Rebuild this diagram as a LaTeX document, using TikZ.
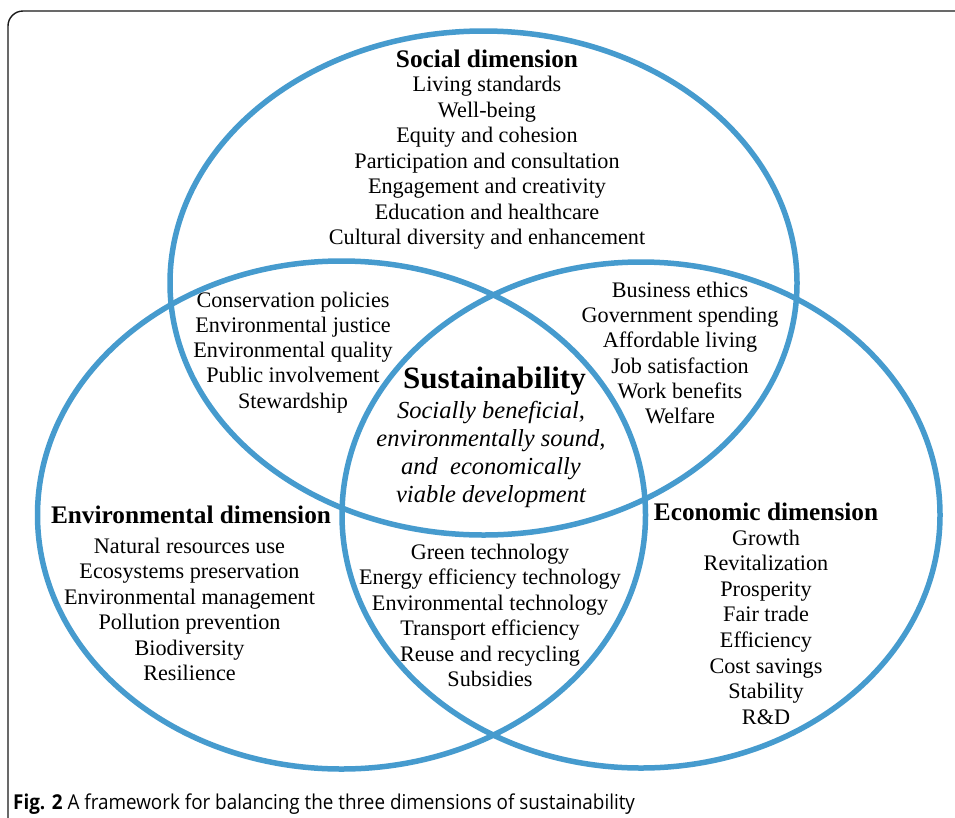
\documentclass[tikz,border=0pt]{standalone}
\usepackage{fontspec}
\setmainfont{Liberation Serif}
\newfontfamily\capfont{Open Sans}
\definecolor{vennblue}{RGB}{70,155,206}
\definecolor{framegray}{RGB}{25,25,25}
\begin{document}
\begin{tikzpicture}[x=1pt,y=-1pt,
  ring/.style={draw=vennblue,line width=5.5pt},
  item/.style={font=\fontsize{22.2}{25}\selectfont, anchor=base, inner sep=0pt},
  head/.style={font=\fontsize{25.3}{28}\selectfont\bfseries, anchor=base, inner sep=0pt},
  core/.style={font=\fontsize{31}{34}\selectfont\bfseries, anchor=base, inner sep=0pt},
  coreit/.style={font=\fontsize{24.5}{28}\selectfont\itshape, anchor=base, inner sep=0pt},
  frameline/.style={draw=framegray,line width=1.4pt}]
\useasboundingbox (0,0) rectangle (955,817);
\fill[white] (0,0) rectangle (955,817);
\begin{scope}
\clip (0,0) rectangle (955,817);
\draw[frameline,rounded corners=15pt] (8,840) -- (8,11) -- (980,11);
\end{scope}

% the three circles
\draw[ring] (483.5,283) ellipse [x radius=313.5pt, y radius=252pt];
\draw[ring] (341.5,515) ellipse [x radius=304pt, y radius=254pt];
\draw[ring] (641,515) ellipse [x radius=299pt, y radius=253pt];

% social dimension
\node[head] (soc) at (487,67) {Social dimension};
\foreach \t [count=\i] in {Living standards, Well-being, Equity and cohesion,
  Participation and consultation, Engagement and creativity,
  Education and healthcare, Cultural diversity and enhancement}
  \node[item] (soc\i) at (487,{91.5+25.5*(\i-1)}) {\t};

% social/environmental lens
\foreach \t [count=\i] in {Conservation policies, Environmental justice,
  Environmental quality, Public involvement, Stewardship}
  \node[item] (se\i) at (293,{307.3+25.2*(\i-1)}) {\t};

% social/economic lens
\foreach \t [count=\i] in {Business ethics, Government spending,
  Affordable living, Job satisfaction, Work benefits, Welfare}
  \node[item] (sc\i) at (680,{297.3+25.3*(\i-1)}) {\t};

% centre
\node[core] (sus) at (494.5,388.3) {Sustainability};
\foreach \t [count=\i] in {{Socially beneficial,}, {environmentally sound,},
  {and\ \ economically}, {viable development}}
  \node[coreit] (sus\i) at (491,{418.3+28.1*(\i-1)}) {\t};

% environmental dimension
\node[head] (env) at (191,523.3) {Environmental dimension};
\foreach \t [count=\i] in {Natural resources use, Ecosystems preservation,
  Environmental management, Pollution prevention, Biodiversity, Resilience}
  \node[item] (env\i) at (189.5,{553.3+25.5*(\i-1)}) {\t};

% environmental/economic lens
\foreach \t [count=\i] in {Green technology, Energy efficiency technology,
  Environmental technology, Transport efficiency, Reuse and recycling, Subsidies}
  \node[item] (ec\i) at (490,{559.3+25.5*(\i-1)}) {\t};

% economic dimension
\node[head] (eco) at (766,520) {Economic dimension};
\foreach \t [count=\i] in {Growth, Revitalization, Prosperity, Fair trade,
  Efficiency, Cost savings, Stability, R\&D}
  \node[item] (eco\i) at (766,{545+25.6*(\i-1)}) {\t};

% caption
\node[anchor=base west, inner sep=0pt] (cap) at (13,809)
  {\scalebox{0.92}[1]{\capfont\fontsize{20.5}{23}\selectfont\textbf{Fig. 2} A framework for balancing the three dimensions of sustainability}};
\end{tikzpicture}
\end{document}
